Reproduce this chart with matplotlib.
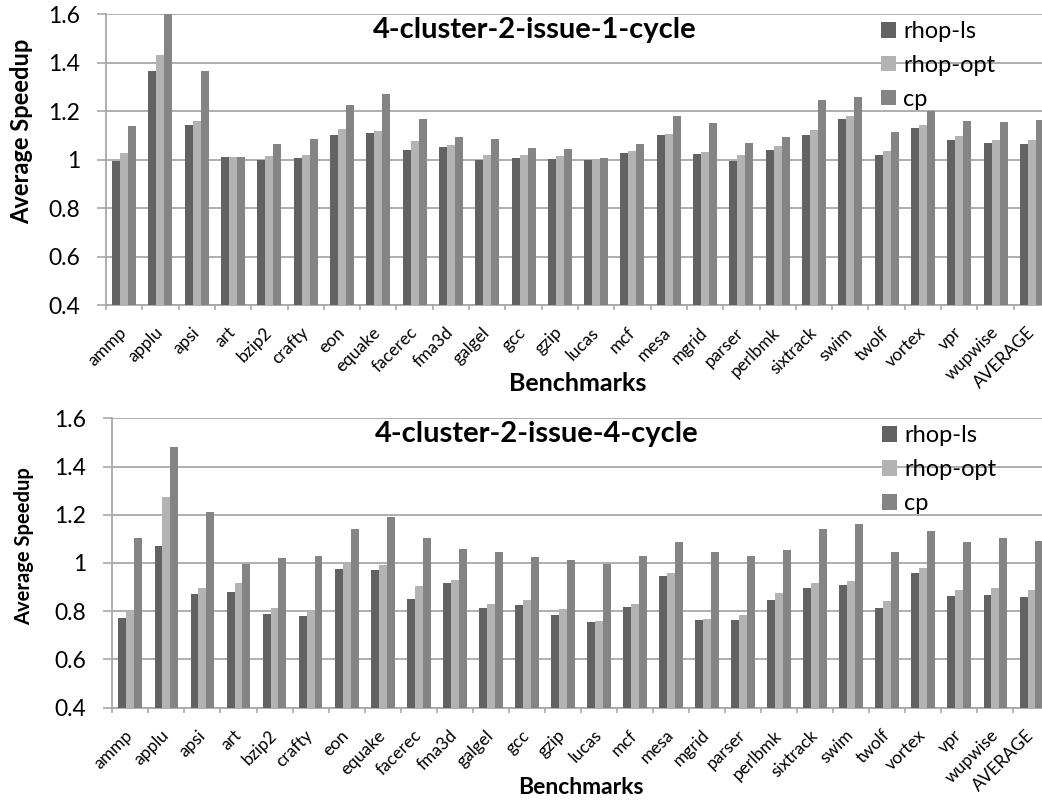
import numpy as np
import matplotlib
matplotlib.use('Agg')
import matplotlib.pyplot as plt
from matplotlib.ticker import FuncFormatter

plt.rcParams['font.family'] = ['Lato', 'DejaVu Sans']

benchmarks = ['ammp', 'applu', 'apsi', 'art', 'bzip2', 'crafty', 'eon', 'equake',
              'facerec', 'fma3d', 'galgel', 'gcc', 'gzip', 'lucas', 'mcf', 'mesa',
              'mgrid', 'parser', 'perlbmk', 'sixtrack', 'swim', 'twolf', 'vortex',
              'vpr', 'wupwise', 'AVERAGE']
series_names = ['rhop-ls', 'rhop-opt', 'cp']

# 4-cluster-2-issue-1-cycle
c1_rhop_ls = [0.995, 1.364, 1.142, 1.010, 0.998, 1.006, 1.101, 1.111, 1.039, 1.051,
              0.999, 1.006, 1.003, 0.999, 1.025, 1.100, 1.021, 0.995, 1.039, 1.102,
              1.168, 1.020, 1.130, 1.080, 1.068, 1.063]
c1_rhop_opt = [1.026, 1.431, 1.158, 1.010, 1.016, 1.017, 1.126, 1.119, 1.075, 1.060,
               1.017, 1.019, 1.013, 1.000, 1.035, 1.106, 1.030, 1.020, 1.056, 1.120,
               1.179, 1.034, 1.143, 1.098, 1.080, 1.079]
c1_cp = [1.137, 1.600, 1.365, 1.012, 1.065, 1.086, 1.225, 1.271, 1.167, 1.093,
         1.083, 1.049, 1.042, 1.006, 1.065, 1.178, 1.152, 1.067, 1.093, 1.245,
         1.259, 1.113, 1.200, 1.160, 1.155, 1.161]

# 4-cluster-2-issue-4-cycle
c4_rhop_ls = [0.770, 1.069, 0.870, 0.881, 0.790, 0.781, 0.974, 0.970, 0.851, 0.918,
              0.813, 0.826, 0.783, 0.757, 0.816, 0.945, 0.765, 0.763, 0.848, 0.895,
              0.909, 0.815, 0.958, 0.862, 0.866, 0.860]
c4_rhop_opt = [0.799, 1.275, 0.898, 0.916, 0.815, 0.799, 0.999, 0.993, 0.903, 0.929,
               0.830, 0.845, 0.809, 0.761, 0.831, 0.958, 0.768, 0.786, 0.875, 0.916,
               0.925, 0.842, 0.979, 0.887, 0.895, 0.889]
c4_cp = [1.105, 1.481, 1.210, 0.995, 1.021, 1.029, 1.141, 1.191, 1.105, 1.058,
         1.046, 1.025, 1.012, 0.997, 1.028, 1.087, 1.046, 1.029, 1.054, 1.141,
         1.162, 1.044, 1.134, 1.087, 1.102, 1.093]

titles = ['4-cluster-2-issue-1-cycle', '4-cluster-2-issue-4-cycle']
colors = ['#626262', '#b3b3b3', '#848484']
grid_color = '#a8a8a8'

fig = plt.figure(figsize=(10.42, 8.01), dpi=100)
ax_top = fig.add_axes([0.1017, 0.6192, 0.906, 0.3633])
ax_bot = fig.add_axes([0.1078, 0.1165, 0.8994, 0.3613])

# axes, data, title, title x, ylabel size, ylabel pos, xlabel size, xlabel y, legend top
panels = [
    (ax_top, [c1_rhop_ls, c1_rhop_opt, c1_cp], titles[0], 0.4545,
     17, (-(106 - 22) / 944, 0.598), 18, -0.271, 0.976),
    (ax_bot, [c4_rhop_ls, c4_rhop_opt, c4_cp], titles[1], 0.453,
     14.5, (-(112 - 24) / 937, 0.557), 16.5, -0.277, 0.976),
]

x = np.arange(len(benchmarks))
width = 0.22

for ax, data, title, tx, ylsize, ylpos, xlsize, xly, legtop in panels:
    for i, (vals, name) in enumerate(zip(data, series_names)):
        ax.bar(x + (i - 1) * width, vals, width, color=colors[i], label=name,
               zorder=3, linewidth=0)
    ax.set_xlim(-0.5, len(benchmarks) - 0.5)
    ax.set_ylim(0.4, 1.6)
    ax.set_yticks(np.arange(0.4, 1.61, 0.2))
    ax.yaxis.set_major_formatter(FuncFormatter(lambda v, p: f'{v:g}'))
    ax.yaxis.grid(True, color=grid_color, linewidth=1.3, zorder=0)
    ax.set_axisbelow(True)

    # category boundaries as ticks (Excel style)
    ax.set_xticks(np.arange(-0.5, len(benchmarks), 1.0))
    ax.set_xticklabels([])
    ax.set_xticks(x, minor=True)
    ax.set_xticklabels(benchmarks, minor=True, rotation=45, ha='right', va='center',
                       rotation_mode='anchor', fontsize=12.5)
    ax.tick_params(axis='x', which='minor', length=0, pad=18)
    ax.tick_params(axis='x', which='major', length=3.6, color=grid_color, width=1.2)
    ax.tick_params(axis='y', length=6.8, color=grid_color, width=1.2,
                   labelsize=16.5, pad=12)

    for s in ['top', 'right']:
        ax.spines[s].set_visible(False)
    for s in ['left', 'bottom']:
        ax.spines[s].set_color(grid_color)
        ax.spines[s].set_linewidth(1.3)

    ax.set_xlabel('Benchmarks', fontsize=xlsize, fontweight='bold', va='center')
    ax.xaxis.set_label_coords(0.5, xly)
    ax.set_ylabel('Average Speedup', fontsize=ylsize, fontweight='bold', va='center')
    ax.yaxis.set_label_coords(*ylpos)
    ax.text(tx, 0.99, title, transform=ax.transAxes, ha='center', va='top',
            fontsize=21, fontweight='bold')
    ax.legend(loc='upper left', bbox_to_anchor=(0.821, legtop), frameon=False,
              fontsize=17, handlelength=0.64, handleheight=0.64, borderpad=0,
              borderaxespad=0, handletextpad=0.3, labelspacing=0.55)

fig.savefig('out.png', dpi=100)
